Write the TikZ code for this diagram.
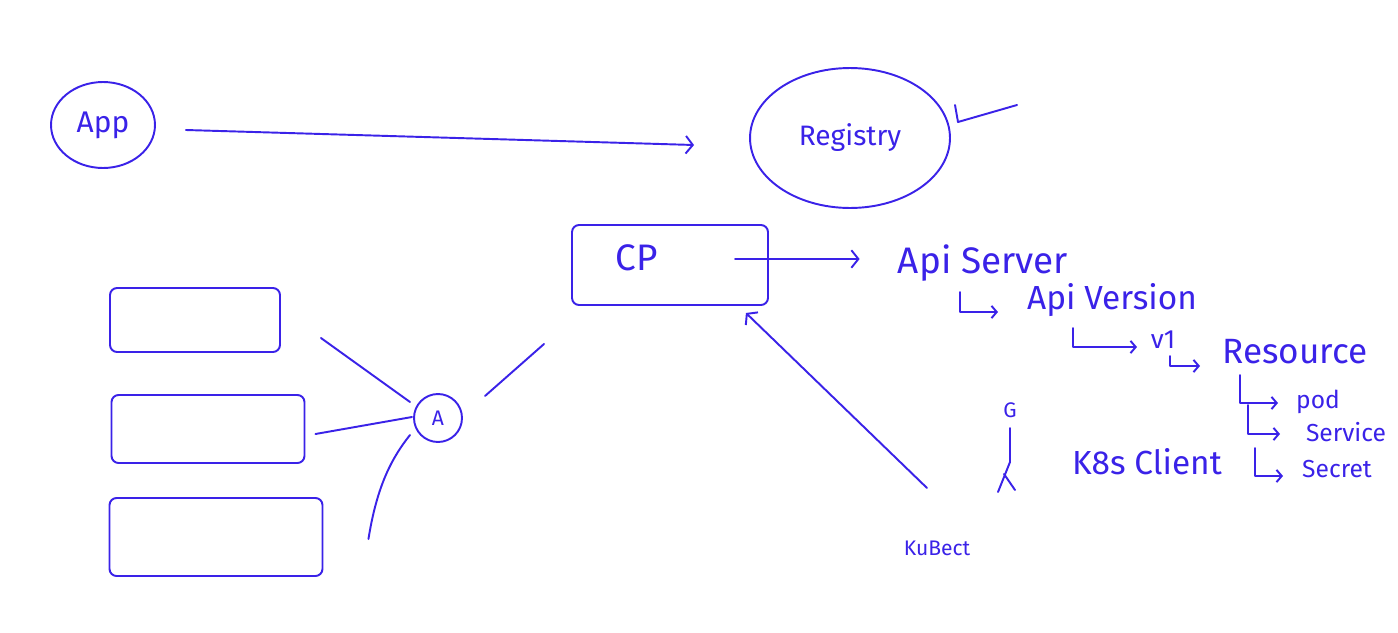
\documentclass[tikz,border=0pt]{standalone}
\usepackage{fontspec}
\setmainfont{Fira Sans}
\usetikzlibrary{arrows.meta,shapes.geometric}
\definecolor{ink}{RGB}{58,34,232}
\newcommand\fz[1]{\fontsize{#1}{#1}\selectfont}
\begin{document}
\begin{tikzpicture}[x=0.02cm,y=-0.02cm,
  pen/.style={draw=ink,line width=1.1pt,line cap=round,line join=round},
  txt/.style={text=ink,inner sep=0pt,anchor=center},
  tip/.style={-{Straight Barb[length=4pt,width=10pt,line width=1.1pt]}},
  smalltip/.style={-{Straight Barb[length=3pt,width=7pt,line width=1.1pt]}},
  box/.style={pen,rectangle,rounded corners=4pt}]
\useasboundingbox (0,0) rectangle (1398,632);

% main shapes
\node[pen,ellipse,minimum width=2.08cm,minimum height=1.72cm,text=ink,font=\fz{17}] (app) at (103,125) {App};
\node[pen,ellipse,minimum width=4cm,minimum height=2.8cm,text=ink,font=\fz{16}] (reg) at (850,138) {Registry};
\node[box,minimum width=3.92cm,minimum height=1.6cm] (cp) at (670,265) {};
\node[txt,font=\fz{21}] (cplabel) at (637,258) {CP};
\node[pen,circle,minimum size=0.96cm,inner sep=0pt,text=ink,font=\fz{12}] (d) at (438,418) {A};
\node[box,minimum width=3.4cm,minimum height=1.28cm] (r1) at (195,320) {};
\node[box,minimum width=3.86cm,minimum height=1.36cm] (r2) at (208,429) {};
\node[box,minimum width=4.26cm,minimum height=1.56cm] (r3) at (216,537) {};

% texts
\node[txt,font=\fz{21}] (api) at (983,263) {Api Server};
\node[txt,font=\fz{19}] (apiv) at (1112,300) {Api Version};
\node[txt,font=\fz{15}] (v1) at (1163,340) {v1};
\node[txt,font=\fz{20}] (res) at (1295,352) {Resource};
\node[txt,font=\fz{14}] (pod) at (1318,402) {pod};
\node[txt,font=\fz{14}] (svc) at (1346,432) {Service};
\node[txt,font=\fz{14}] (sec) at (1337,469) {Secret};
\node[txt,font=\fz{19}] (k8s) at (1147,462) {K8s Client};
\node[txt,font=\fz{12}] (g) at (1010,410) {G};
\node[txt,font=\fz{12}] (kub) at (937,548) {KuBect};

% connectors
\draw[pen,tip] ([shift={(30,5)}]app.east) -- ([shift={(-55,7)}]reg.west);
\draw[pen,tip] ([shift={(65,-6)}]cp.center) -- ([shift={(-38,-4)}]api.west);
\draw[pen,tip] ([shift={(-10,-60)}]kub.center) -- ([shift={(-23,7)}]cp.south east);

\draw[pen] ([shift={(47,-22)}]d.center) -- ([shift={(-27,38)}]cp.south west);
\draw[pen] ([shift={(-28,-16)}]d.center) -- ([shift={(40,18)}]r1.east);
\draw[pen] ([shift={(-26,-1)}]d.center) -- ([shift={(10,5)}]r2.east);
\draw[pen] ([shift={(-28,17)}]d.center) .. controls +(-20,25) and +(8,-50) .. ([shift={(45,42)}]r3.north east);

% tree elbows
\coordinate (e1s) at (960,292); \coordinate (e1e) at (998,312);
\coordinate (e2s) at (1073,328); \coordinate (e2e) at (1137,347);
\coordinate (e3s) at (1170,356); \coordinate (e3e) at (1200,366);
\coordinate (e4s) at (1240,375); \coordinate (e4e) at (1278,403);
\coordinate (e5s) at (1248,405); \coordinate (e5e) at (1280,434);
\coordinate (e6s) at (1255,448); \coordinate (e6e) at (1283,476);
\draw[pen,smalltip] (e1s) |- (e1e);
\draw[pen,smalltip] (e2s) |- (e2e);
\draw[pen,smalltip] (e3s) |- (e3e);
\draw[pen,smalltip] (e4s) |- (e4e);
\draw[pen,smalltip] (e5s) |- (e5e);
\draw[pen,smalltip] (e6s) |- (e6e);

% small strokes
\draw[pen] (955,105) -- (958,122) -- (1017,105);
\draw[pen] (1010,428) -- (1010,462) -- (998,492);
\draw[pen] (1004,474) -- (1015,490);
\end{tikzpicture}
\end{document}
